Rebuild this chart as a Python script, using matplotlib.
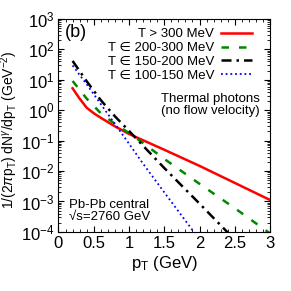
import matplotlib
matplotlib.use("Agg")
import matplotlib.pyplot as plt
import numpy as np
from matplotlib.ticker import MultipleLocator, LogLocator, NullFormatter

plt.rcParams['font.family'] = ['Liberation Sans', 'DejaVu Sans']
plt.rcParams['mathtext.fontset'] = 'custom'
plt.rcParams['mathtext.rm'] = 'Liberation Sans'
plt.rcParams['mathtext.it'] = 'Liberation Sans:italic'
plt.rcParams['mathtext.bf'] = 'Liberation Sans:bold'

# log10 of spectra
pt_red = [0.2, 0.3, 0.4, 0.5, 0.6, 0.8, 1.0, 1.25, 1.5, 2.0, 2.5, 3.0]
log_red = [0.72, 0.38, 0.08, -0.1, -0.25, -0.53, -0.78, -1.04, -1.3, -1.83, -2.39, -2.95]

pt_green = [0.2, 0.4, 0.6, 0.8, 1.0, 1.2, 1.5, 2.0, 2.5, 3.0]
log_green = [0.96, 0.38, -0.1, -0.45, -0.75, -1.08, -1.6, -2.42, -3.22, -4.05]

pt_black = [0.2, 0.4, 0.6, 0.8, 1.0, 1.2, 1.5, 2.0, 2.4]
log_black = [1.62, 0.95, 0.33, -0.2, -0.68, -1.17, -1.9, -3.07, -4.02]

pt_blue = [0.2, 0.4, 0.6, 0.8, 1.0, 1.2, 1.5, 1.9, 1.95]
log_blue = [1.47, 0.85, 0.2, -0.45, -1.1, -1.76, -2.7, -3.94, -4.1]

labels = ["T > 300 MeV", "T \u2208 200-300 MeV", "T \u2208 150-200 MeV", "T \u2208 100-150 MeV"]

fig = plt.figure(figsize=(2.91, 2.91), dpi=100)
ax = fig.add_axes([0.201, 0.203, 0.727, 0.732])

ax.plot(pt_red, 10**np.array(log_red), color='red', lw=1.8, label=labels[0])
ax.plot(pt_green, 10**np.array(log_green), color='#008800', lw=1.8, ls=(0, (3, 4)), label=labels[1])
ax.plot(pt_black, 10**np.array(log_black), color='black', lw=1.8, ls=(0, (4, 2, 1, 2)), label=labels[2])
ax.plot(pt_blue, 10**np.array(log_blue), color='blue', lw=1.3, ls=(0, (1, 1.6)), label=labels[3])

ax.set_yscale('log')
ax.set_xlim(0, 3)
ax.set_ylim(1e-4, 1e3)
ax.xaxis.set_minor_locator(MultipleLocator(0.1))
ax.set_xticks([0, 0.5, 1, 1.5, 2, 2.5, 3])
ax.set_xticklabels(["0", "0.5", "1", "1.5", "2", "2.5", "3"])
ax.yaxis.set_major_locator(LogLocator(base=10, numticks=20))
ax.yaxis.set_minor_locator(LogLocator(base=10, subs=np.arange(2, 10), numticks=20))
ax.yaxis.set_minor_formatter(NullFormatter())
ax.tick_params(which='both', direction='in', top=True, right=True, labelsize=12, pad=3)
ax.tick_params(which='major', length=4)
ax.tick_params(which='minor', length=2)

ax.set_xlabel(r"p$_\mathrm{T}$ (GeV)", fontsize=12, labelpad=2)
ax.set_ylabel(r"1/(2$\pi$p$_\mathrm{T}$) dN$^\gamma$/dp$_\mathrm{T}$ (GeV$^{-2}$)", fontsize=10)
ax.yaxis.set_label_coords(-0.18, 0.48)

ax.legend(loc='upper right', markerfirst=False, frameon=False, fontsize=9.5,
          handlelength=2.4, handletextpad=0.5, labelspacing=0.12,
          borderaxespad=0.4, borderpad=0.3, bbox_to_anchor=(0.96, 1.0))

ax.text(0.03, 0.975, "(b)", transform=ax.transAxes, fontsize=13, va='top', ha='left')
ax.text(0.95, 0.595, "Thermal photons\n(no flow velocity)", transform=ax.transAxes,
        fontsize=9.5, ha='right', va='center', linespacing=1.0)
ax.text(0.05, 0.10, "Pb-Pb central\n\u221as=2760 GeV", transform=ax.transAxes,
        fontsize=9.5, ha='left', va='center', linespacing=1.0)

fig.savefig("out.png", dpi=100)
